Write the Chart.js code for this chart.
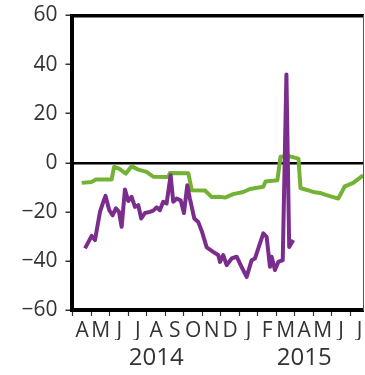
<!DOCTYPE html>
<html>
<head>
<meta charset="utf-8">
<script src="https://cdn.jsdelivr.net/npm/chart.js@4.4.1/dist/chart.umd.min.js"></script>
<style>
  body { margin: 0; background: #fff; }
  #wrap { width: 365px; height: 375px; }
</style>
</head>
<body>
<div id="wrap"><canvas id="chart" width="365" height="375"></canvas></div>
<script>
// x positions are in months counted from 1 April 2014
const monthLetters = ['A', 'M', 'J', 'J', 'A', 'S', 'O', 'N', 'D', 'J', 'F', 'M', 'A', 'M', 'J', 'J'];
const yearLabels = ['2014', '2015'];
const yearCentres = [4.5, 12.5];

const purpleMonths = [0.65, 1.01, 1.19, 1.46, 1.64, 1.76, 1.96, 2.14, 2.32, 2.49, 2.63, 2.81, 2.99, 3.17,
    3.35, 3.53, 3.69, 3.89, 4.16, 4.34, 4.52, 4.70, 4.88, 5.06, 5.28, 5.42, 5.61, 5.82, 6.00, 6.18, 6.32,
    6.56, 6.77, 6.97, 7.23, 7.58, 7.85, 7.95, 8.12, 8.31, 8.58, 8.85, 9.12, 9.39, 9.66, 9.84, 10.29, 10.47,
    10.65, 10.74, 10.92, 11.10, 11.34, 11.54, 11.69, 11.91];
const purpleValues = [-34.9, -29.8, -31.5, -20.0, -15.9, -13.5, -19.3, -21.4, -18.6, -20.0, -26.1, -10.9, -15.6, -13.9,
    -18.0, -17.3, -22.7, -20.5, -20.0, -19.5, -18.2, -19.3, -15.9, -16.6, -5.1, -15.9, -14.6, -15.3, -20.5, -9.2, -14.6,
    -22.7, -24.1, -28.0, -34.5, -36.3, -37.6, -40.4, -37.6, -41.7, -39.0, -38.3, -42.5, -46.5, -39.7, -39.0, -28.8, -30.2,
    -42.4, -38.3, -43.7, -40.4, -39.7, 36.0, -34.3, -31.5];

const greenMonths = [0.47, 1.01, 1.24, 2.09, 2.22, 2.49, 2.86, 3.17, 3.53, 3.98, 4.34, 5.15, 5.24, 6.24, 6.42,
    7.14, 7.50, 7.95, 8.22, 8.66, 9.21, 9.57, 10.29, 10.41, 11.05, 11.22, 11.73, 12.19, 12.30, 12.99, 13.35,
    13.71, 14.34, 14.70, 15.15, 15.69, 16.05];
const greenValues = [-8.2, -7.8, -6.8, -6.8, -1.7, -2.4, -4.4, -1.4, -2.8, -3.7, -5.7, -5.8, -4.2, -4.3, -11.2,
    -11.3, -14.0, -13.9, -14.2, -12.8, -11.9, -10.7, -9.8, -7.6, -7.1, 2.4, 2.6, 1.7, -10.3, -11.9, -12.3,
    -13.2, -14.6, -9.6, -8.2, -5.1, -3.0];

const X_MIN = -0.08;
const X_MAX = 15.68;
const labelColor = '#333';
const labelFont = 'Open Sans';

// tick marks sit on month boundaries, letters in the middle of each month
const monthTicks = [];
monthLetters.forEach((_, i) => { monthTicks.push(i, i + 0.5); });

function noPadding(scale) {
    scale.paddingLeft = 0;
    scale.paddingRight = 0;
    scale.paddingTop = 0;
    scale.paddingBottom = 0;
}

function toPoints(xs, ys) {
    return xs.map((x, i) => ({ x: x, y: ys[i] }));
}

new Chart(document.getElementById('chart'), {
    type: 'line',
    data: {
        datasets: [{
            data: toPoints(purpleMonths, purpleValues),
            borderColor: '#7b2d8e',
            borderWidth: 4,
            borderJoinStyle: 'round',
            pointRadius: 0,
            tension: 0,
            fill: false,
        }, {
            data: toPoints(greenMonths, greenValues),
            borderColor: '#74b236',
            borderWidth: 4,
            borderJoinStyle: 'round',
            pointRadius: 0,
            tension: 0,
            fill: false,
        }],
    },
    options: {
        responsive: false,
        animation: false,
        layout: { padding: { top: 15.5, left: 0, right: 0, bottom: 0 } },
        plugins: {
            legend: { display: false },
            tooltip: { enabled: false },
        },
        scales: {
            x: {
                type: 'linear',
                position: 'bottom',
                min: X_MIN,
                max: X_MAX,
                bounds: 'data',
                afterBuildTicks: s => { s.ticks = monthTicks.map(v => ({ value: v })); },
                afterFit: s => { s.height = 30; noPadding(s); },
                border: { display: true, color: '#000', width: 4 },
                grid: {
                    drawOnChartArea: false,
                    drawTicks: true,
                    tickLength: 6,
                    tickWidth: 1.2,
                    tickColor: ctx => (ctx.tick && Number.isInteger(ctx.tick.value)) ? '#333' : 'rgba(0,0,0,0)',
                },
                ticks: {
                    autoSkip: false,
                    maxRotation: 0,
                    minRotation: 0,
                    padding: 2,
                    color: labelColor,
                    font: { family: labelFont, size: 21 },
                    callback: v => Number.isInteger(v) ? '' : monthLetters[Math.floor(v)],
                },
            },
            years: {
                type: 'linear',
                position: 'bottom',
                weight: 1,
                min: X_MIN,
                max: X_MAX,
                bounds: 'data',
                afterBuildTicks: s => { s.ticks = yearCentres.map(v => ({ value: v })); },
                afterFit: s => { s.height = 35; noPadding(s); },
                border: { display: false },
                grid: { display: false, drawTicks: false },
                ticks: {
                    autoSkip: false,
                    maxRotation: 0,
                    minRotation: 0,
                    padding: 4,
                    color: labelColor,
                    font: { family: labelFont, size: 24 },
                    callback: (v, i) => yearLabels[i],
                },
            },
            xTop: {
                type: 'linear',
                position: 'top',
                min: X_MIN,
                max: X_MAX,
                afterFit: s => { s.height = 0; noPadding(s); },
                border: { display: true, color: '#000', width: 3.5 },
                grid: { display: false, drawTicks: false },
                ticks: { display: false },
            },
            y: {
                type: 'linear',
                position: 'left',
                min: -60,
                max: 60,
                afterFit: s => { s.width = 71.5; noPadding(s); },
                border: { display: true, color: '#000', width: 4 },
                grid: {
                    color: ctx => (ctx.tick && ctx.tick.value === 0) ? '#000' : 'rgba(0,0,0,0)',
                    lineWidth: 2.5,
                    drawTicks: true,
                    tickLength: 6,
                    tickWidth: 1.5,
                    tickColor: '#333',
                },
                ticks: {
                    stepSize: 20,
                    padding: 8,
                    color: labelColor,
                    font: { family: labelFont, size: 21 },
                    callback: v => v < 0 ? '\u2212' + (-v) : String(v),
                },
            },
            yRight: {
                type: 'linear',
                position: 'right',
                min: -60,
                max: 60,
                afterFit: s => { s.width = 2; noPadding(s); },
                border: { display: true, color: '#555', width: 1 },
                grid: { display: false, drawTicks: false },
                ticks: { display: false },
            },
        },
    },
});
</script>
</body>
</html>
